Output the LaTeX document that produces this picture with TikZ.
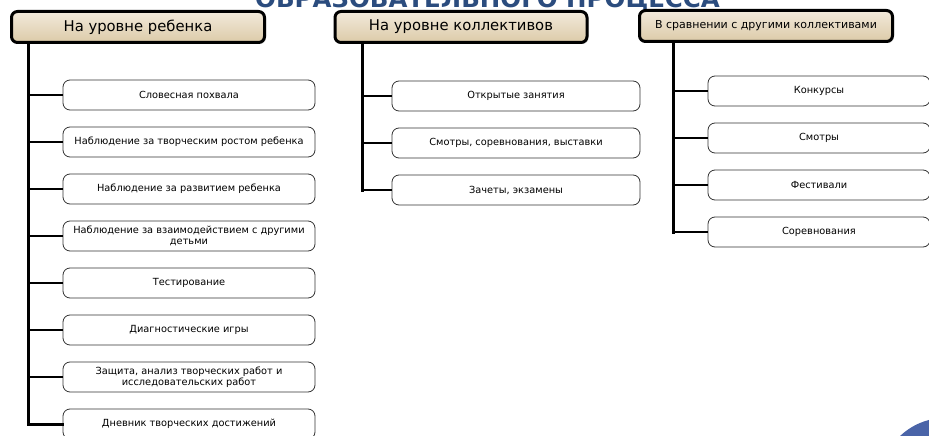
\documentclass[tikz,border=0pt]{standalone}
\usepackage{fontspec}
\setmainfont{DejaVu Sans}
\newfontfamily\hdrfont{DejaVu Sans}
\newfontfamily\ttlfont{DejaVu Sans}
\usetikzlibrary{shadows}
\definecolor{hdrtop}{HTML}{F2EADB}
\definecolor{hdrbot}{HTML}{DCCBA8}
\definecolor{ttlblue}{HTML}{2B4C7E}
\definecolor{dotblue}{HTML}{4A64A8}
\tikzset{
  hdrbox/.style={draw=black, line width=3pt, rounded corners=6pt,
    top color=hdrtop, bottom color=hdrbot, minimum height=31pt,
    font=\hdrfont\fontsize{14.8}{16}\selectfont, inner sep=0pt,
    drop shadow={shadow xshift=1.5pt, shadow yshift=-1.5pt, opacity=0.3}},
  hdrboxsm/.style={hdrbox, font=\hdrfont\fontsize{11}{12}\selectfont},
  itembox/.style={draw=black!80, line width=0.8pt, rounded corners=7pt, fill=white,
    minimum height=30pt, inner sep=1pt, align=center,
    font=\fontsize{9.8}{11.5}\selectfont},
  trunk/.style={line width=3pt, line cap=rect},
  branch/.style={line width=2.4pt},
}
\begin{document}
\begin{tikzpicture}[x=1pt,y=-1pt]
\useasboundingbox (0,0) rectangle (929,436);
\clip (0,0) rectangle (929,436);
\fill[white] (0,0) rectangle (929,436);

% cut-off title
\node[anchor=base west, inner sep=0pt, text=ttlblue, font=\ttlfont\bfseries\fontsize{24.5}{26}\selectfont] (title) at (255,8) {ОБРАЗОВАТЕЛЬНОГО ПРОЦЕССА};

% decorative circle
\fill[dotblue] (945,483) circle (65);

% headers
\node[hdrbox, minimum width=253pt] (h1) at (138,27) {На уровне ребенка};
\node[hdrbox, minimum width=252pt] (h2) at (461,27) {На уровне коллективов};
\node[hdrboxsm, minimum width=253pt] (h3) at (766,26) {В сравнении с другими коллективами};

% column 1
\begin{scope}[every node/.style={itembox, minimum width=252pt}]
\node (a1) at (189,95) {Словесная похвала};
\node (a2) at (189,142) {Наблюдение за творческим ростом ребенка};
\node (a3) at (189,189) {Наблюдение за развитием ребенка};
\node (a4) at (189,236) {Наблюдение за взаимодействием с другими\\детьми};
\node (a5) at (189,283) {Тестирование};
\node (a6) at (189,330) {Диагностические игры};
\node (a7) at (189,377) {Защита, анализ творческих работ и\\исследовательских работ};
\node (a8) at (189,424) {Дневник творческих достижений};
\end{scope}

% column 2
\begin{scope}[every node/.style={itembox, minimum width=248pt}]
\node (b1) at (516,96) {Открытые занятия};
\node (b2) at (516,143) {Смотры, соревнования, выставки};
\node (b3) at (516,190) {Зачеты, экзамены};
\end{scope}

% column 3
\begin{scope}[every node/.style={itembox, minimum width=222pt}]
\node (c1) at (819,91) {Конкурсы};
\node (c2) at (819,138) {Смотры};
\node (c3) at (819,185) {Фестивали};
\node (c4) at (819,232) {Соревнования};
\end{scope}

% trunk anchor coordinates
\coordinate (t1) at (28,43);
\coordinate (t2) at (362,43);
\coordinate (t3) at (673,42);

% connectors column 1
\draw[trunk] (t1) -- (t1 |- a8.west) -- (a8.west);
\foreach \n in {a1,a2,a3,a4,a5,a6,a7}
  \draw[branch] (t1 |- \n.west) -- (\n.west);

% connectors column 2
\draw[trunk] (t2) -- (t2 |- b3.west);
\foreach \n in {b1,b2,b3}
  \draw[branch] (t2 |- \n.west) -- (\n.west);

% connectors column 3
\draw[trunk] (t3) -- (t3 |- c4.west);
\foreach \n in {c1,c2,c3,c4}
  \draw[branch] (t3 |- \n.west) -- (\n.west);
\end{tikzpicture}
\end{document}
